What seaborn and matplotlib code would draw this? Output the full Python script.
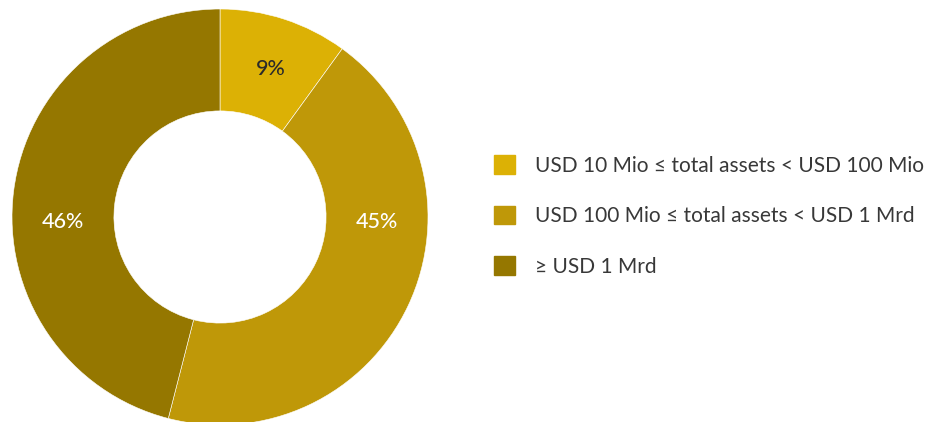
import matplotlib
matplotlib.use("Agg")
import matplotlib.pyplot as plt
import matplotlib.patches as mpatches
import seaborn as sns
import numpy as np

# data
categories = ["USD 10 Mio \u2264 total assets < USD 100 Mio",
              "USD 100 Mio \u2264 total assets < USD 1 Mrd",
              "\u2265 USD 1 Mrd"]
shares = [10, 44, 46]          # slice sizes as drawn
share_labels = ["9%", "45%", "46%"]
colors = ["#DCB105", "#BF9808", "#957700"]
label_colors = ["#2a2a2a", "white", "white"]

sns.set_theme(style="white")
plt.rcParams['font.family'] = ['Lato', 'DejaVu Sans']

fig = plt.figure(figsize=(9.3, 4.22), dpi=100)
ax = fig.add_axes([12/930, -3/422, 416/930, 416/422])

wedges, _ = ax.pie(shares, colors=colors, startangle=90, counterclock=False,
                   radius=1, wedgeprops=dict(width=0.49, edgecolor="white", linewidth=0.4))

# label placement (angles in degrees, as in the original layout)
label_angles = [71, -2, 182]
for a, lab, c in zip(label_angles, share_labels, label_colors):
    t = np.deg2rad(a)
    ax.text(0.755 * np.cos(t), 0.755 * np.sin(t), lab, color=c,
            ha="center", va="center", fontsize=15.5, fontweight="medium")

ax.set_xlim(-1, 1)
ax.set_ylim(-1, 1)
ax.set_aspect("equal")
ax.axis("off")

handles = [mpatches.Patch(color=c, label=t) for c, t in zip(colors, categories)]
fig.legend(handles=handles, loc="center left", bbox_to_anchor=(494/930, 206/422),
           frameon=False, fontsize=15, handlelength=1.0, handleheight=1.0,
           handletextpad=0.95, labelspacing=1.45, labelcolor="#383838",
           borderpad=0, borderaxespad=0)

fig.savefig("out.png", dpi=100)
